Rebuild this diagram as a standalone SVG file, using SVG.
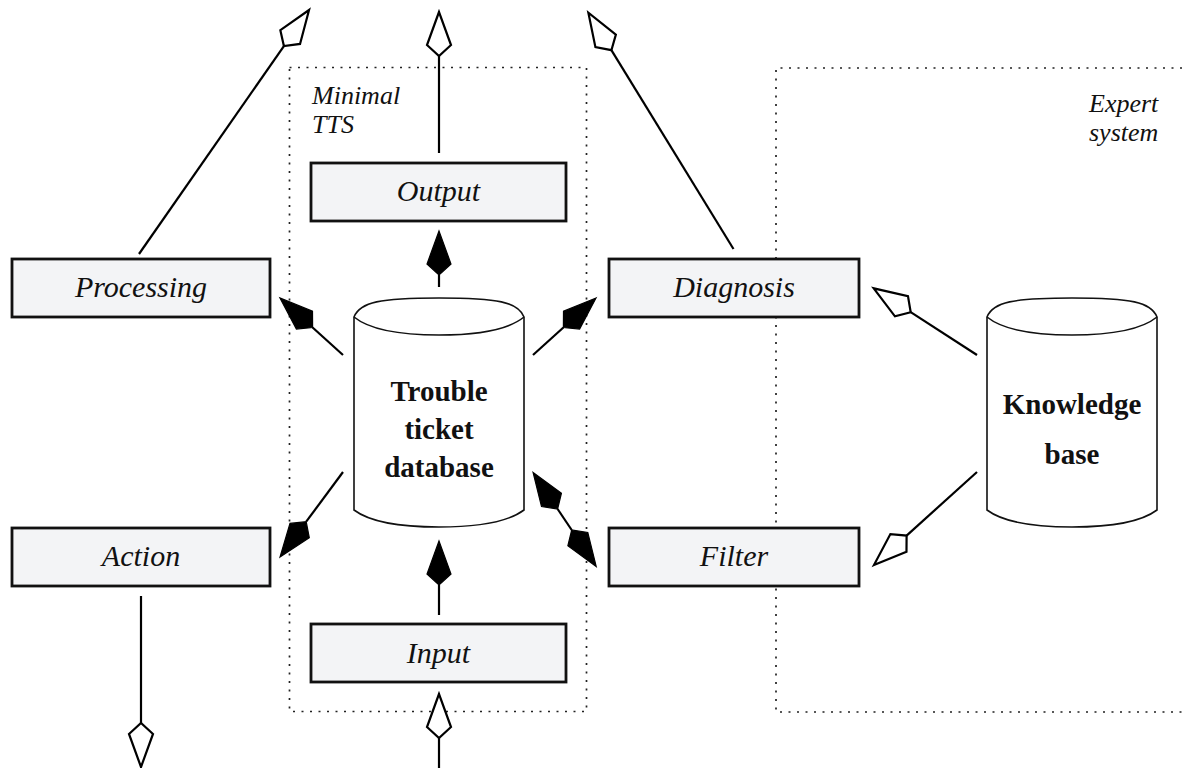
<svg xmlns="http://www.w3.org/2000/svg" width="1182" height="768" viewBox="0 0 1182 768">
<style>
.box{fill:#f3f4f6;stroke:#111;stroke-width:2.8}
.cyl{fill:#fff;stroke:#111;stroke-width:1.6}
.lbl{font-family:"Liberation Serif","Times New Roman",serif;font-style:italic;font-size:30px;fill:#111;text-anchor:middle}
.db{font-family:"Liberation Serif","Times New Roman",serif;font-weight:bold;font-size:29px;fill:#111;text-anchor:middle}
.grp{font-family:"Liberation Serif","Times New Roman",serif;font-style:italic;font-size:26px;fill:#111}
.dot{fill:none;stroke:#222;stroke-width:1.7;stroke-dasharray:2 6.5}
.c{fill:none;stroke:#000;stroke-width:2.2}
.cf{marker-end:url(#kf)}
.ch{marker-end:url(#kh)}
</style>
<defs>
<marker id="kf" markerUnits="userSpaceOnUse" orient="auto-start-reverse" refX="0" refY="0" markerWidth="50" markerHeight="30" viewBox="-3 -15 50 30" overflow="visible">
<path d="M44,0 L11,-12 L0,0 L11,12 Z" fill="#000" stroke="#000" stroke-width="1.2" stroke-linejoin="miter"/>
</marker>
<marker id="kh" markerUnits="userSpaceOnUse" orient="auto" refX="0" refY="0" markerWidth="50" markerHeight="30" viewBox="-3 -15 50 30" overflow="visible">
<path d="M44,0 L11,-12 L0,0 L11,12 Z" fill="#fff" stroke="#000" stroke-width="2.2" stroke-linejoin="miter"/>
</marker>
</defs>

<g id="minimal-tts">
<rect class="dot" x="289.5" y="67.5" width="297" height="644"/>
<text class="grp" x="312" y="104">Minimal</text>
<text class="grp" x="312" y="133">TTS</text>
</g>
<g id="expert-system">
<path class="dot" d="M1182,68 H776 V712 H1182"/>
<text class="grp" x="1089" y="112">Expert</text>
<text class="grp" x="1089" y="141">system</text>
</g>

<g id="connectors">
<path class="c ch" d="M139,254 L283.9,46.1"/>
<path class="c ch" d="M439,153 L439,56"/>
<path class="c ch" d="M733.5,249 L611.4,50.2"/>
<path class="c cf" d="M439,287 L439,275"/>
<path class="c cf" d="M343,355 L312.6,327.5"/>
<path class="c cf" d="M533,355 L563.4,327.5"/>
<path class="c cf" d="M343,472 L306.2,521.7"/>
<path class="c cf" d="M557.6,509 L571.7,530" marker-start="url(#kf)"/>
<path class="c cf" d="M439,615 L439,585"/>
<path class="c ch" d="M439,768 L439,738"/>
<path class="c ch" d="M141,596 L141,723"/>
<path class="c ch" d="M977,355 L910.7,312.2"/>
<path class="c ch" d="M977,472 L906.6,535.6"/>
</g>

<g id="processing">
<rect class="box" x="12" y="259" width="258" height="58"/>
<text class="lbl" x="141" y="297">Processing</text>
</g>
<g id="output">
<rect class="box" x="311" y="163" width="255" height="58"/>
<text class="lbl" x="438.5" y="201">Output</text>
</g>
<g id="diagnosis">
<rect class="box" x="609" y="259" width="250" height="58"/>
<text class="lbl" x="734" y="297">Diagnosis</text>
</g>
<g id="action">
<rect class="box" x="12" y="528" width="258" height="58"/>
<text class="lbl" x="141" y="566">Action</text>
</g>
<g id="filter">
<rect class="box" x="609" y="528" width="250" height="58"/>
<text class="lbl" x="734" y="566">Filter</text>
</g>
<g id="input">
<rect class="box" x="311" y="624" width="255" height="58"/>
<text class="lbl" x="438.5" y="663">Input</text>
</g>

<g id="trouble-ticket-database">
<path class="cyl" d="M354,317 C360,302 380,298 439,298 C498,298 518,302 524,317 L524,510 C508,522 478,527 439,527 C400,527 370,522 354,510 Z"/>
<path class="cyl" d="M354,317 C370,330 400,335 439,335 C478,335 508,330 524,317"/>
<text class="db" x="439" y="401">Trouble</text>
<text class="db" x="439" y="439">ticket</text>
<text class="db" x="439" y="477">database</text>
</g>
<g id="knowledge-base">
<path class="cyl" d="M987,317 C993,302 1013,298 1072,298 C1131,298 1151,302 1157,317 L1157,510 C1141,522 1111,527 1072,527 C1033,527 1003,522 987,510 Z"/>
<path class="cyl" d="M987,317 C1003,330 1033,335 1072,335 C1111,335 1141,330 1157,317"/>
<text class="db" x="1072" y="414">Knowledge</text>
<text class="db" x="1072" y="464">base</text>
</g>
</svg>
